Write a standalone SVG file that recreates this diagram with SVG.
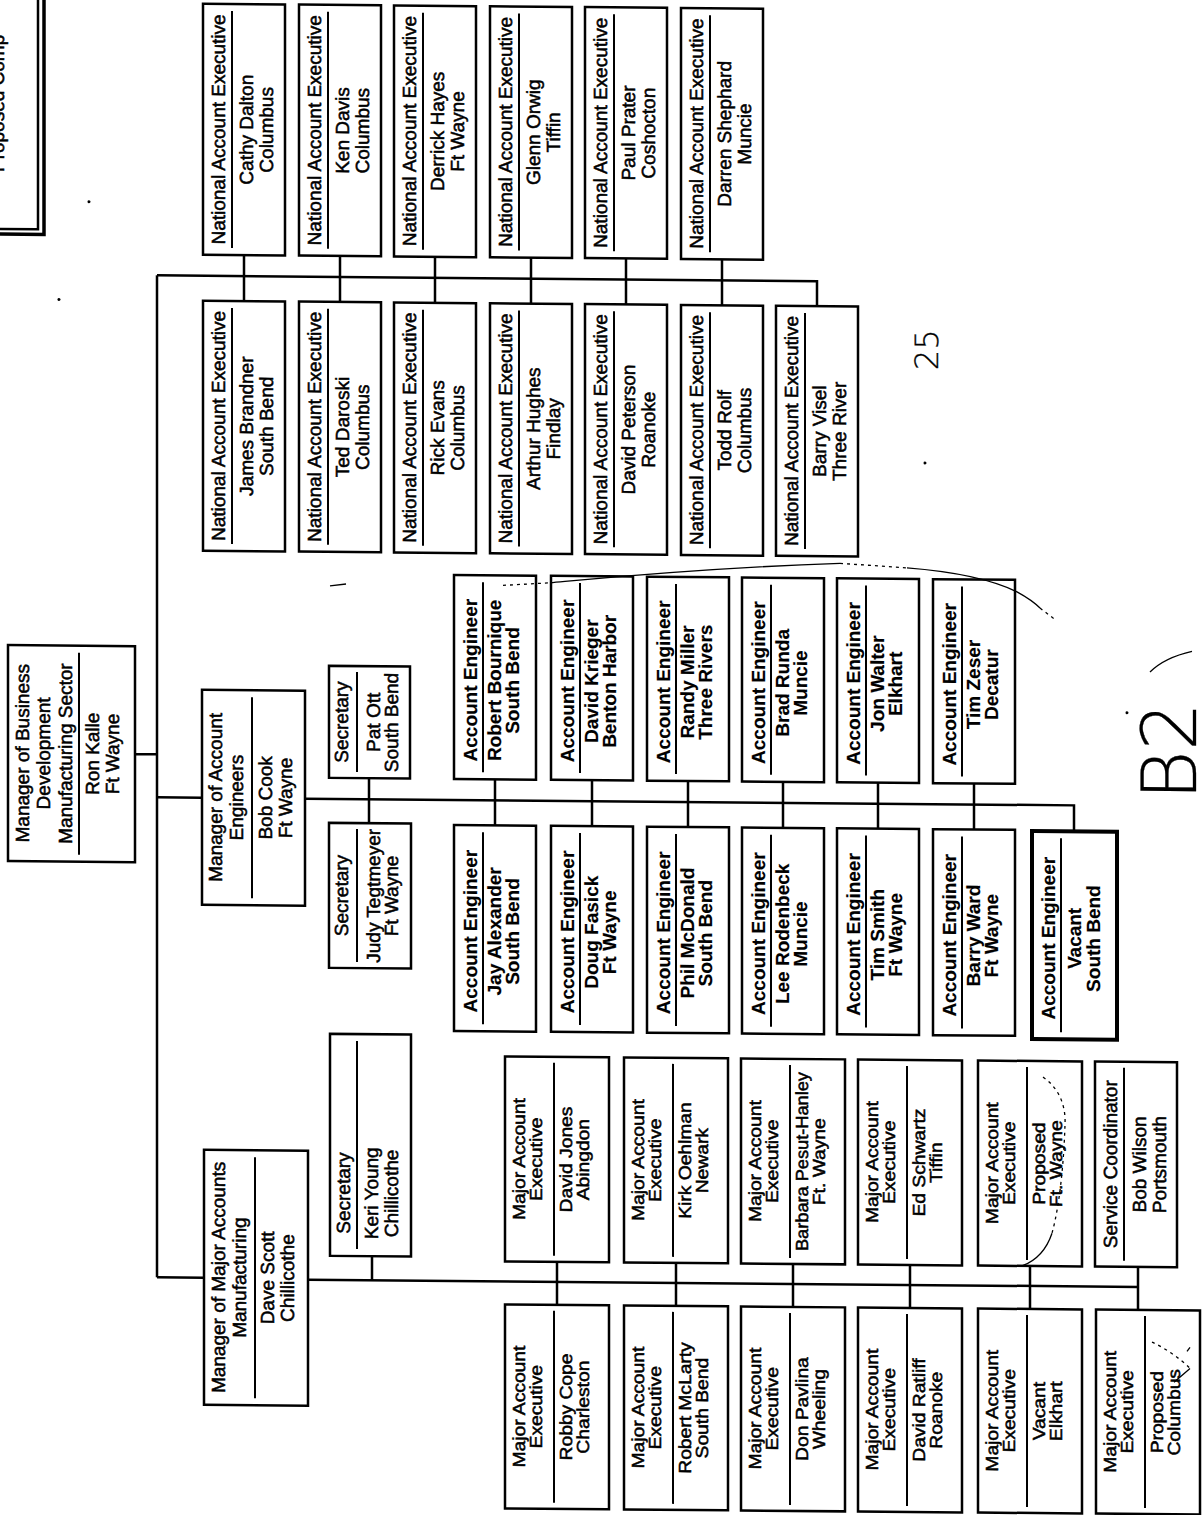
<svg xmlns="http://www.w3.org/2000/svg" width="1203" height="1515" viewBox="0 0 1203 1515">
<style>
.box{fill:#fff;stroke:#000;stroke-width:2.5}
.thick{stroke-width:4}
.sep{stroke:#000;stroke-width:2}
.conn path{fill:none;stroke:#000;stroke-width:2.5}
text{font-family:"Liberation Sans",Arial,sans-serif;font-size:19px;text-anchor:middle;fill:#000;stroke:#000;stroke-width:0.5px}
.b{font-weight:bold;stroke-width:0.15px}
.m{font-size:17.5px}
.hand{font-family:"DejaVu Sans",sans-serif;font-weight:200;text-anchor:start;stroke-width:0.3px}
.h25{font-size:32px}
.h26{font-size:76px}
.pen{fill:none;stroke:#000;stroke-width:1.3}
.dot{stroke-dasharray:3 4}
</style>
<rect width="1203" height="1515" fill="#fff"/>
<g transform="skewY(0.5)">

<g id="n-title">
<rect class="box" x="-10" y="-10" width="48" height="239"/>
<path d="M44,-5 V234 H-5" fill="none" stroke="#000" stroke-width="3.5"/>
<text style="text-anchor:start" transform="translate(4 172) rotate(-90)">Proposed Comp</text>
</g>

<g class="conn" id="connectors">
<path d="M135,753 H157"/>
<path d="M157,274 V1276"/>
<path d="M157,274 H817 V299"/>
<path d="M244,253 V299 M340,253 V299 M435,253 V299 M531,253 V299 M626,253 V299 M722,253 V299"/>
<path d="M157,796 H202"/>
<path d="M305,796 H1074 V822"/>
<path d="M369,775 V820"/>
<path d="M495,775 V821 M592,775 V821 M688,775 V821 M783,775 V821 M878,775 V821 M974,775 V821"/>
<path d="M157,1276 H204"/>
<path d="M308,1277 H1138"/>
<path d="M372,1253 V1277"/>
<path d="M557,1257 V1300 M676,1257 V1300 M793,1257 V1300 M910,1257 V1300 M1030,1257 V1300 M1138,1257 V1300"/>
</g>

<g id="n-root">
<rect class="box" x="8" y="645" width="127" height="216"/>
<line class="sep" x1="79" y1="652" x2="79" y2="854"/>
<text transform="translate(29 753) rotate(-90)">Manager of Business</text>
<text transform="translate(50 753) rotate(-90)">Development</text>
<text transform="translate(72 753) rotate(-90)">Manufacturing Sector</text>
<text transform="translate(99 753) rotate(-90)">Ron Kalle</text>
<text transform="translate(119 753) rotate(-90)">Ft Wayne</text>
</g>

<g id="n-mgr-ae">
<rect class="box" x="202" y="688" width="103" height="215"/>
<line class="sep" x1="252" y1="695" x2="252" y2="896"/>
<text transform="translate(222 795.5) rotate(-90)">Manager of Account</text>
<text transform="translate(243 795.5) rotate(-90)">Engineers</text>
<text transform="translate(272 795.5) rotate(-90)">Bob Cook</text>
<text transform="translate(292 795.5) rotate(-90)">Ft Wayne</text>
</g>

<g id="n-mgr-ma">
<rect class="box" x="204" y="1148" width="104" height="255"/>
<line class="sep" x1="255" y1="1155" x2="255" y2="1396"/>
<text transform="translate(225 1275.5) rotate(-90)">Manager of Major Accounts</text>
<text transform="translate(246 1275.5) rotate(-90)">Manufacturing</text>
<text transform="translate(274 1275.5) rotate(-90)">Dave Scott</text>
<text transform="translate(294 1275.5) rotate(-90)">Chillicothe</text>
</g>

<g id="n-sec-ott">
<rect class="box" x="329" y="663" width="81" height="112"/>
<line class="sep" x1="357" y1="669" x2="357" y2="769"/>
<text transform="translate(348 719) rotate(-90)">Secretary</text>
<text transform="translate(380 719) rotate(-90)">Pat Ott</text>
<text transform="translate(398 719) rotate(-90)">South Bend</text>
</g>
<g id="n-sec-tegtmeyer">
<rect class="box" x="329" y="820" width="82" height="145"/>
<line class="sep" x1="357" y1="826" x2="357" y2="959"/>
<text transform="translate(348 892.5) rotate(-90)">Secretary</text>
<text transform="translate(380 892.5) rotate(-90)">Judy Tegtmeyer</text>
<text transform="translate(398 892.5) rotate(-90)">Ft Wayne</text>
</g>
<g id="n-sec-young">
<rect class="box" x="330" y="1031" width="81" height="222"/>
<line class="sep" x1="357" y1="1038" x2="357" y2="1246"/>
<text transform="translate(350 1190) rotate(-90)">Secretary</text>
<text transform="translate(378 1190) rotate(-90)">Keri Young</text>
<text transform="translate(398 1190) rotate(-90)">Chillicothe</text>
</g>

<!-- National Account Executives, top row -->
<g id="n-nae-dalton"><rect class="box" x="203" y="2" width="82" height="251"/><line class="sep" x1="232" y1="9" x2="232" y2="246"/>
<text transform="translate(225 127.5) rotate(-90)">National Account Executive</text><text transform="translate(253 127.5) rotate(-90)">Cathy Dalton</text><text transform="translate(273 127.5) rotate(-90)">Columbus</text></g>
<g id="n-nae-davis"><rect class="box" x="299" y="2" width="82" height="251"/><line class="sep" x1="328" y1="9" x2="328" y2="246"/>
<text transform="translate(321 127.5) rotate(-90)">National Account Executive</text><text transform="translate(349 127.5) rotate(-90)">Ken Davis</text><text transform="translate(369 127.5) rotate(-90)">Columbus</text></g>
<g id="n-nae-hayes"><rect class="box" x="394" y="2" width="82" height="251"/><line class="sep" x1="423" y1="9" x2="423" y2="246"/>
<text transform="translate(416 127.5) rotate(-90)">National Account Executive</text><text transform="translate(444 127.5) rotate(-90)">Derrick Hayes</text><text transform="translate(464 127.5) rotate(-90)">Ft Wayne</text></g>
<g id="n-nae-orwig"><rect class="box" x="490" y="2" width="82" height="251"/><line class="sep" x1="519" y1="9" x2="519" y2="246"/>
<text transform="translate(512 127.5) rotate(-90)">National Account Executive</text><text transform="translate(540 127.5) rotate(-90)">Glenn Orwig</text><text transform="translate(560 127.5) rotate(-90)">Tiffin</text></g>
<g id="n-nae-prater"><rect class="box" x="585" y="2" width="82" height="251"/><line class="sep" x1="614" y1="9" x2="614" y2="246"/>
<text transform="translate(607 127.5) rotate(-90)">National Account Executive</text><text transform="translate(635 127.5) rotate(-90)">Paul Prater</text><text transform="translate(655 127.5) rotate(-90)">Coshocton</text></g>
<g id="n-nae-shephard"><rect class="box" x="681" y="2" width="82" height="251"/><line class="sep" x1="710" y1="9" x2="710" y2="246"/>
<text transform="translate(703 127.5) rotate(-90)">National Account Executive</text><text transform="translate(731 127.5) rotate(-90)">Darren Shephard</text><text transform="translate(751 127.5) rotate(-90)">Muncie</text></g>

<!-- National Account Executives, second row -->
<g id="n-nae-brandner"><rect class="box" x="203" y="299" width="82" height="250"/><line class="sep" x1="232" y1="306" x2="232" y2="542"/>
<text transform="translate(225 424) rotate(-90)">National Account Executive</text><text transform="translate(253 424) rotate(-90)">James Brandner</text><text transform="translate(273 424) rotate(-90)">South Bend</text></g>
<g id="n-nae-daroski"><rect class="box" x="299" y="299" width="82" height="250"/><line class="sep" x1="328" y1="306" x2="328" y2="542"/>
<text transform="translate(321 424) rotate(-90)">National Account Executive</text><text transform="translate(349 424) rotate(-90)">Ted Daroski</text><text transform="translate(369 424) rotate(-90)">Columbus</text></g>
<g id="n-nae-evans"><rect class="box" x="394" y="299" width="82" height="250"/><line class="sep" x1="423" y1="306" x2="423" y2="542"/>
<text transform="translate(416 424) rotate(-90)">National Account Executive</text><text transform="translate(444 424) rotate(-90)">Rick Evans</text><text transform="translate(464 424) rotate(-90)">Columbus</text></g>
<g id="n-nae-hughes"><rect class="box" x="490" y="299" width="82" height="250"/><line class="sep" x1="519" y1="306" x2="519" y2="542"/>
<text transform="translate(512 424) rotate(-90)">National Account Executive</text><text transform="translate(540 424) rotate(-90)">Arthur Hughes</text><text transform="translate(560 424) rotate(-90)">Findlay</text></g>
<g id="n-nae-peterson"><rect class="box" x="585" y="299" width="82" height="250"/><line class="sep" x1="614" y1="306" x2="614" y2="542"/>
<text transform="translate(607 424) rotate(-90)">National Account Executive</text><text transform="translate(635 424) rotate(-90)">David Peterson</text><text transform="translate(655 424) rotate(-90)">Roanoke</text></g>
<g id="n-nae-rolf"><rect class="box" x="681" y="299" width="82" height="250"/><line class="sep" x1="710" y1="306" x2="710" y2="542"/>
<text transform="translate(703 424) rotate(-90)">National Account Executive</text><text transform="translate(731 424) rotate(-90)">Todd Rolf</text><text transform="translate(751 424) rotate(-90)">Columbus</text></g>
<g id="n-nae-visel"><rect class="box" x="776" y="299" width="82" height="250"/><line class="sep" x1="805" y1="306" x2="805" y2="542"/>
<text transform="translate(798 424) rotate(-90)">National Account Executive</text><text transform="translate(826 424) rotate(-90)">Barry Visel</text><text transform="translate(846 424) rotate(-90)">Three River</text></g>

<!-- Account Engineers, top row -->
<g id="n-ae-bournique"><rect class="box" x="454" y="571" width="82" height="204"/><line class="sep" x1="483" y1="578" x2="483" y2="768"/>
<text class="b" transform="translate(477 676) rotate(-90)">Account Engineer</text><text class="b" transform="translate(501 676) rotate(-90)">Robert Bournique</text><text class="b" transform="translate(519 676) rotate(-90)">South Bend</text></g>
<g id="n-ae-krieger"><rect class="box" x="551" y="571" width="82" height="204"/><line class="sep" x1="580" y1="578" x2="580" y2="768"/>
<text class="b" transform="translate(574 676) rotate(-90)">Account Engineer</text><text class="b" transform="translate(598 676) rotate(-90)">David Krieger</text><text class="b" transform="translate(616 676) rotate(-90)">Benton Harbor</text></g>
<g id="n-ae-miller"><rect class="box" x="647" y="571" width="82" height="204"/><line class="sep" x1="676" y1="578" x2="676" y2="768"/>
<text class="b" transform="translate(670 676) rotate(-90)">Account Engineer</text><text class="b" transform="translate(694 676) rotate(-90)">Randy Miller</text><text class="b" transform="translate(712 676) rotate(-90)">Three Rivers</text></g>
<g id="n-ae-runda"><rect class="box" x="742" y="571" width="82" height="204"/><line class="sep" x1="771" y1="578" x2="771" y2="768"/>
<text class="b" transform="translate(765 676) rotate(-90)">Account Engineer</text><text class="b" transform="translate(789 676) rotate(-90)">Brad Runda</text><text class="b" transform="translate(807 676) rotate(-90)">Muncie</text></g>
<g id="n-ae-walter"><rect class="box" x="837" y="571" width="82" height="204"/><line class="sep" x1="866" y1="578" x2="866" y2="768"/>
<text class="b" transform="translate(860 676) rotate(-90)">Account Engineer</text><text class="b" transform="translate(884 676) rotate(-90)">Jon Walter</text><text class="b" transform="translate(902 676) rotate(-90)">Elkhart</text></g>
<g id="n-ae-zeser"><rect class="box" x="933" y="571" width="82" height="204"/><line class="sep" x1="962" y1="578" x2="962" y2="768"/>
<text class="b" transform="translate(956 676) rotate(-90)">Account Engineer</text><text class="b" transform="translate(980 676) rotate(-90)">Tim Zeser</text><text class="b" transform="translate(998 676) rotate(-90)">Decatur</text></g>

<!-- Account Engineers, bottom row -->
<g id="n-ae-alexander"><rect class="box" x="454" y="821" width="82" height="206"/><line class="sep" x1="483" y1="828" x2="483" y2="1020"/>
<text class="b" transform="translate(477 927) rotate(-90)">Account Engineer</text><text class="b" transform="translate(501 927) rotate(-90)">Jay Alexander</text><text class="b" transform="translate(519 927) rotate(-90)">South Bend</text></g>
<g id="n-ae-fasick"><rect class="box" x="551" y="821" width="82" height="206"/><line class="sep" x1="580" y1="828" x2="580" y2="1020"/>
<text class="b" transform="translate(574 927) rotate(-90)">Account Engineer</text><text class="b" transform="translate(598 927) rotate(-90)">Doug Fasick</text><text class="b" transform="translate(616 927) rotate(-90)">Ft Wayne</text></g>
<g id="n-ae-mcdonald"><rect class="box" x="647" y="821" width="82" height="206"/><line class="sep" x1="676" y1="828" x2="676" y2="1020"/>
<text class="b" transform="translate(670 927) rotate(-90)">Account Engineer</text><text class="b" transform="translate(694 927) rotate(-90)">Phil McDonald</text><text class="b" transform="translate(712 927) rotate(-90)">South Bend</text></g>
<g id="n-ae-rodenbeck"><rect class="box" x="742" y="821" width="82" height="206"/><line class="sep" x1="771" y1="828" x2="771" y2="1020"/>
<text class="b" transform="translate(765 927) rotate(-90)">Account Engineer</text><text class="b" transform="translate(789 927) rotate(-90)">Lee Rodenbeck</text><text class="b" transform="translate(807 927) rotate(-90)">Muncie</text></g>
<g id="n-ae-smith"><rect class="box" x="837" y="821" width="82" height="206"/><line class="sep" x1="866" y1="828" x2="866" y2="1020"/>
<text class="b" transform="translate(860 927) rotate(-90)">Account Engineer</text><text class="b" transform="translate(884 927) rotate(-90)">Tim Smith</text><text class="b" transform="translate(902 927) rotate(-90)">Ft Wayne</text></g>
<g id="n-ae-ward"><rect class="box" x="933" y="821" width="82" height="206"/><line class="sep" x1="962" y1="828" x2="962" y2="1020"/>
<text class="b" transform="translate(956 927) rotate(-90)">Account Engineer</text><text class="b" transform="translate(980 927) rotate(-90)">Barry Ward</text><text class="b" transform="translate(998 927) rotate(-90)">Ft Wayne</text></g>
<g id="n-ae-vacant"><rect class="box thick" x="1032" y="822" width="85" height="208"/><line class="sep" x1="1061" y1="829" x2="1061" y2="1023"/>
<text class="b" transform="translate(1055 929) rotate(-90)">Account Engineer</text><text class="b" transform="translate(1081 929) rotate(-90)">Vacant</text><text class="b" transform="translate(1100 929) rotate(-90)">South Bend</text></g>

<!-- Major Accounts, top row -->
<g id="n-ma-jones"><rect class="box" x="505" y="1052" width="104" height="205"/><line class="sep" x1="554" y1="1058" x2="554" y2="1251"/>
<text class="m" transform="translate(525 1154.5) rotate(-90) scale(1.1 1)">Major Account</text><text class="m" transform="translate(542 1154.5) rotate(-90) scale(1.1 1)">Executive</text><text class="m" transform="translate(572 1154.5) rotate(-90) scale(1.1 1)">David Jones</text><text class="m" transform="translate(589 1154.5) rotate(-90) scale(1.1 1)">Abingdon</text></g>
<g id="n-ma-oehlman"><rect class="box" x="624" y="1052" width="104" height="205"/><line class="sep" x1="673" y1="1058" x2="673" y2="1251"/>
<text class="m" transform="translate(644 1154.5) rotate(-90) scale(1.1 1)">Major Account</text><text class="m" transform="translate(661 1154.5) rotate(-90) scale(1.1 1)">Executive</text><text class="m" transform="translate(691 1154.5) rotate(-90) scale(1.1 1)">Kirk Oehlman</text><text class="m" transform="translate(708 1154.5) rotate(-90) scale(1.1 1)">Newark</text></g>
<g id="n-ma-pesut-hanley"><rect class="box" x="741" y="1052" width="104" height="205"/><line class="sep" x1="790" y1="1058" x2="790" y2="1251"/>
<text class="m" transform="translate(761 1154.5) rotate(-90) scale(1.1 1)">Major Account</text><text class="m" transform="translate(778 1154.5) rotate(-90) scale(1.1 1)">Executive</text><text class="m" transform="translate(808 1154.5) rotate(-90) scale(1.04 1)">Barbara Pesut-Hanley</text><text class="m" transform="translate(825 1154.5) rotate(-90) scale(1.1 1)">Ft. Wayne</text></g>
<g id="n-ma-schwartz"><rect class="box" x="858" y="1052" width="104" height="205"/><line class="sep" x1="907" y1="1058" x2="907" y2="1251"/>
<text class="m" transform="translate(878 1154.5) rotate(-90) scale(1.1 1)">Major Account</text><text class="m" transform="translate(895 1154.5) rotate(-90) scale(1.1 1)">Executive</text><text class="m" transform="translate(925 1154.5) rotate(-90) scale(1.1 1)">Ed Schwartz</text><text class="m" transform="translate(942 1154.5) rotate(-90) scale(1.1 1)">Tiffin</text></g>
<g id="n-ma-proposed-ftwayne"><rect class="box" x="978" y="1052" width="104" height="205"/><line class="sep" x1="1027" y1="1058" x2="1027" y2="1251"/>
<text class="m" transform="translate(998 1154.5) rotate(-90) scale(1.1 1)">Major Account</text><text class="m" transform="translate(1015 1154.5) rotate(-90) scale(1.1 1)">Executive</text><text class="m" transform="translate(1045 1154.5) rotate(-90) scale(1.1 1)">Proposed</text><text class="m" transform="translate(1062 1154.5) rotate(-90) scale(1.1 1)">Ft. Wayne</text></g>
<g id="n-sc-wilson"><rect class="box" x="1095" y="1052" width="82" height="205"/><line class="sep" x1="1124" y1="1058" x2="1124" y2="1251"/>
<text transform="translate(1117 1154.5) rotate(-90)">Service Coordinator</text><text transform="translate(1146 1154.5) rotate(-90)">Bob Wilson</text><text transform="translate(1166 1154.5) rotate(-90)">Portsmouth</text></g>

<!-- Major Accounts, bottom row -->
<g id="n-ma-cope"><rect class="box" x="505" y="1300" width="104" height="204"/><line class="sep" x1="554" y1="1306" x2="554" y2="1498"/>
<text class="m" transform="translate(525 1402) rotate(-90) scale(1.1 1)">Major Account</text><text class="m" transform="translate(542 1402) rotate(-90) scale(1.1 1)">Executive</text><text class="m" transform="translate(572 1402) rotate(-90) scale(1.1 1)">Robby Cope</text><text class="m" transform="translate(589 1402) rotate(-90) scale(1.1 1)">Charleston</text></g>
<g id="n-ma-mclarty"><rect class="box" x="624" y="1300" width="104" height="204"/><line class="sep" x1="673" y1="1306" x2="673" y2="1498"/>
<text class="m" transform="translate(644 1402) rotate(-90) scale(1.1 1)">Major Account</text><text class="m" transform="translate(661 1402) rotate(-90) scale(1.1 1)">Executive</text><text class="m" transform="translate(691 1402) rotate(-90) scale(1.1 1)">Robert McLarty</text><text class="m" transform="translate(708 1402) rotate(-90) scale(1.1 1)">South Bend</text></g>
<g id="n-ma-pavlina"><rect class="box" x="741" y="1300" width="104" height="204"/><line class="sep" x1="790" y1="1306" x2="790" y2="1498"/>
<text class="m" transform="translate(761 1402) rotate(-90) scale(1.1 1)">Major Account</text><text class="m" transform="translate(778 1402) rotate(-90) scale(1.1 1)">Executive</text><text class="m" transform="translate(808 1402) rotate(-90) scale(1.1 1)">Don Pavlina</text><text class="m" transform="translate(825 1402) rotate(-90) scale(1.1 1)">Wheeling</text></g>
<g id="n-ma-ratliff"><rect class="box" x="858" y="1300" width="104" height="204"/><line class="sep" x1="907" y1="1306" x2="907" y2="1498"/>
<text class="m" transform="translate(878 1402) rotate(-90) scale(1.1 1)">Major Account</text><text class="m" transform="translate(895 1402) rotate(-90) scale(1.1 1)">Executive</text><text class="m" transform="translate(925 1402) rotate(-90) scale(1.1 1)">David Ratliff</text><text class="m" transform="translate(942 1402) rotate(-90) scale(1.1 1)">Roanoke</text></g>
<g id="n-ma-vacant-elkhart"><rect class="box" x="978" y="1300" width="104" height="204"/><line class="sep" x1="1027" y1="1306" x2="1027" y2="1498"/>
<text class="m" transform="translate(998 1402) rotate(-90) scale(1.1 1)">Major Account</text><text class="m" transform="translate(1015 1402) rotate(-90) scale(1.1 1)">Executive</text><text class="m" transform="translate(1045 1402) rotate(-90) scale(1.1 1)">Vacant</text><text class="m" transform="translate(1062 1402) rotate(-90) scale(1.1 1)">Elkhart</text></g>
<g id="n-ma-proposed-columbus"><rect class="box" x="1096" y="1300" width="104" height="204"/><line class="sep" x1="1145" y1="1306" x2="1145" y2="1498"/>
<text class="m" transform="translate(1116 1402) rotate(-90) scale(1.1 1)">Major Account</text><text class="m" transform="translate(1133 1402) rotate(-90) scale(1.1 1)">Executive</text><text class="m" transform="translate(1163 1402) rotate(-90) scale(1.1 1)">Proposed</text><text class="m" transform="translate(1180 1402) rotate(-90) scale(1.1 1)">Columbus</text></g>

<!-- hand-made marks -->
<g id="marks">
<path class="pen dot" d="M503,581 L550,578"/>
<path class="pen" d="M550,578 C600,573 700,562 840,556"/>
<path class="pen dot" d="M840,556 L907,560"/>
<path class="pen" d="M907,560 C950,563 990,570 1017,583 C1030,590 1036,595 1040,599"/>
<path class="pen dot" d="M1040,599 L1056,611"/>
<path class="pen dot" d="M1043,1068 C1058,1078 1066,1095 1065,1115 C1064,1150 1060,1195 1052,1224"/>
<path class="pen" d="M1052,1224 C1046,1242 1035,1252 1022,1257"/>
<path class="pen dot" d="M1152,1332 C1165,1338 1180,1348 1190,1358"/>
<path class="pen" d="M1174,1372 L1190,1358 M1187,1341 l3,-4"/>
<path class="pen" d="M330,583 L346,581" stroke-width="2"/>
<path class="pen" d="M1150,662 C1160,652 1175,645 1192,641"/>
<circle cx="925" cy="455" r="1.5"/>
<circle cx="1127" cy="703" r="1.5"/>
<circle cx="89" cy="201" r="1.5"/>
<circle cx="59" cy="299" r="1.5"/>
<text class="hand h25" transform="translate(938 362) rotate(-90)">25</text>
<text class="hand h26" transform="translate(1196 790) rotate(-90)">B2</text>
</g>
</g>
</svg>
